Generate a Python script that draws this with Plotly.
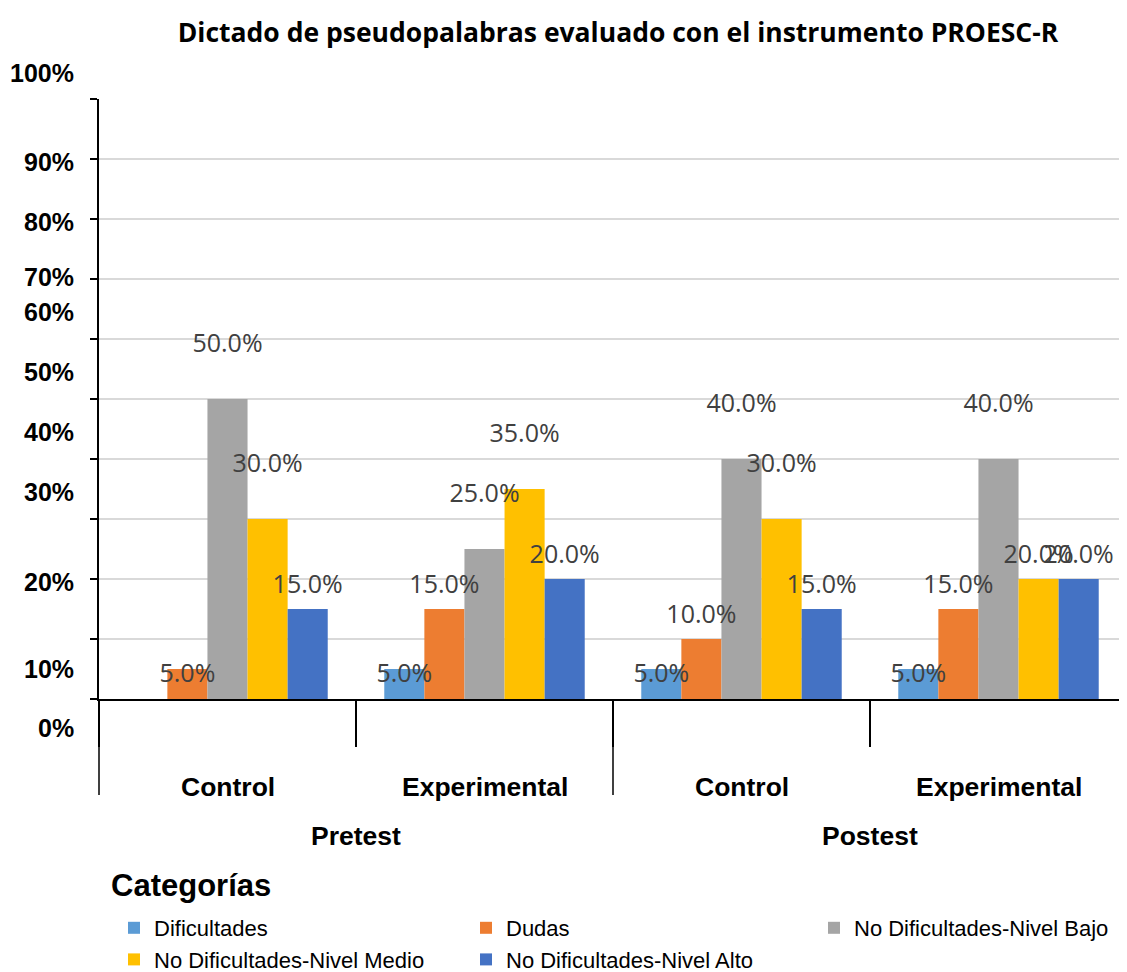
import plotly.graph_objects as go

# data
momento = ["Pretest", "Postest"]
grupo = ["Control", "Experimental", "Control", "Experimental"]
x_momento = ["Pretest", "Pretest", "Postest", "Postest"]
categorias = ["Dificultades", "Dudas", "No Dificultades-Nivel Bajo",
              "No Dificultades-Nivel Medio", "No Dificultades-Nivel Alto"]
dificultades = [0, 5, 5, 5]
dudas = [5, 15, 10, 15]
nivel_bajo = [50, 25, 40, 40]
nivel_medio = [30, 35, 30, 20]
nivel_alto = [15, 20, 15, 20]
series = [dificultades, dudas, nivel_bajo, nivel_medio, nivel_alto]

ytick_text = ["100%", "90%", "80%", "70%", "60%", "50%", "40%", "30%", "20%", "10%", "0%"]
# where the (misplaced) tick labels sit in the original, in axis units
ytick_at = [104.3, 89.5, 79.5, 70.3, 64.5, 54.5, 44.5, 34.5, 19.5, 5.0, -4.8]

colores = ["#5B9BD5", "#ED7D31", "#A5A5A5", "#FFC000", "#4472C4"]
# which of the three legend columns each series goes to
columna = ["legend", "legend2", "legend3", "legend", "legend2"]

W, H = 1119, 964          # page body has an 8px margin
PLOT_H = 600
PX_PER_UNIT = PLOT_H / 100
N = len(grupo)


def label_shift(v):
    # data labels in the original float at uneven heights above the bars
    if v >= 25:
        return 53
    if v >= 10:
        return 22
    return -7


fig = go.Figure()
x = [x_momento, grupo]
for name, vals, col, lg in zip(categorias, series, colores, columna):
    fig.add_trace(go.Bar(name=name, x=x, y=vals, marker_color=col,
                         marker_line_width=0, legend=lg))
for name, vals in zip(categorias, series):
    fig.add_trace(go.Scatter(
        x=x, y=[v + label_shift(v) / PX_PER_UNIT for v in vals],
        mode="text", text=[f"{v:.1f}%" for v in vals],
        textposition="middle center", showlegend=False, hoverinfo="skip",
        textfont=dict(family="Open Sans", size=25, color="#404040"),
        cliponaxis=False))

# y tick labels (offset as in the original)
for t, pos in zip(ytick_text, ytick_at):
    fig.add_annotation(xref="paper", yref="paper", x=0, y=pos / 100,
                       xanchor="right", yanchor="middle", xshift=-23,
                       text=f"<b>{t}</b>", showarrow=False,
                       font=dict(family="Liberation Sans", size=25, color="black"))

# category labels, two levels
lab_font = dict(family="Liberation Sans", size=26.5, color="black")
for i, g in enumerate(grupo):
    fig.add_annotation(xref="paper", yref="paper", x=(i + 0.5) / N, y=-88 / PLOT_H,
                       xanchor="center", yanchor="middle", showarrow=False,
                       text=f"<b>{g}</b>", font=lab_font)
for j, m in enumerate(momento):
    fig.add_annotation(xref="paper", yref="paper", x=(2 * j + 1) / N, y=-137 / PLOT_H,
                       xanchor="center", yanchor="middle", showarrow=False,
                       text=f"<b>{m}</b>", font=lab_font)
    fig.add_shape(type="line", xref="paper", yref="paper",
                  x0=2 * j / N, x1=2 * j / N, y0=0, y1=-96 / PLOT_H,
                  line=dict(color="black", width=1.5))

fig.add_annotation(xref="paper", yref="paper", x=10 / 1028, y=(691 - 877) / PLOT_H,
                   xanchor="left", yanchor="middle", showarrow=False,
                   text="<b>Categorías</b>",
                   font=dict(family="Liberation Sans", size=31, color="black"))

leg = dict(orientation="v", xref="container", yref="container",
           y=1 - 899 / H, xanchor="left", yanchor="top",
           font=dict(family="Liberation Sans", size=22, color="black"),
           itemwidth=30, tracegroupgap=0, bgcolor="rgba(0,0,0,0)")

fig.update_layout(
    width=W, height=H,
    margin=dict(l=91, r=0, t=91, b=H - 91 - PLOT_H, autoexpand=False),
    paper_bgcolor="white", plot_bgcolor="white",
    barmode="group", bargap=0.22, bargroupgap=0,
    scattermode="group", scattergap=0.22,
    title=dict(text="<b>Dictado de pseudopalabras evaluado con el instrumento PROESC-R</b>",
               x=610 / W, xref="container", xanchor="center",
               y=1 - 25 / H, yanchor="middle",
               font=dict(family="Open Sans", size=26.5, color="black")),
    showlegend=True,
    legend=dict(leg, x=106 / W),
    legend2=dict(leg, x=458 / W),
    legend3=dict(leg, x=806 / W),
)
fig.update_yaxes(range=[0, 100], dtick=10, showticklabels=False, automargin=False,
                 showgrid=True, gridcolor="#D9D9D9", gridwidth=1.5,
                 ticks="outside", ticklen=7, tickcolor="black", tickwidth=1.5,
                 showline=True, linecolor="black", linewidth=1.5, zeroline=False)
fig.update_xaxes(type="multicategory", showline=True, linecolor="black", linewidth=1.5,
                 automargin=False, showticklabels=False, showdividers=False,
                 ticks="outside", tickson="boundaries", ticklen=46,
                 tickcolor="black", tickwidth=1.5)

fig.write_html("out.html")
